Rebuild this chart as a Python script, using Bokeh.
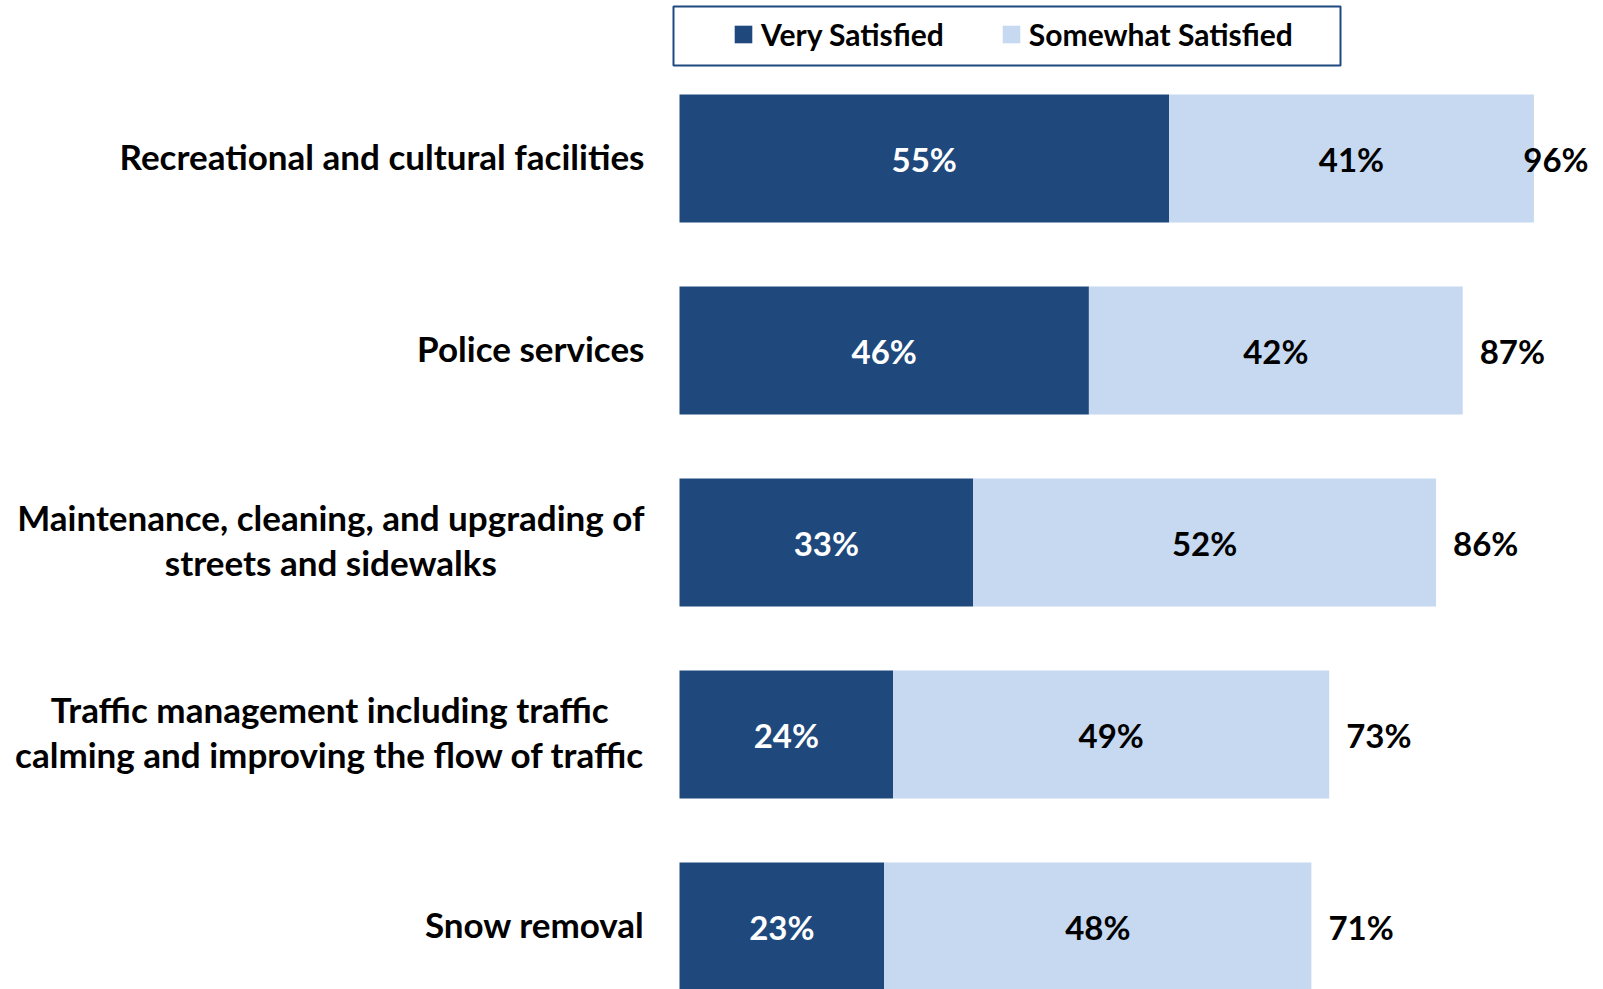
import numpy as np
from bokeh.plotting import figure
from bokeh.models import ColumnDataSource, Range1d, Legend, LegendItem, BoxAnnotation
from bokeh.core.properties import value
from bokeh.embed import file_html
from bokeh.resources import INLINE

# ---------------- data ----------------
categories = [
    "Recreational and cultural facilities",
    "Police services",
    "Maintenance, cleaning, and upgrading of\nstreets and sidewalks",
    "Traffic management including traffic\ncalming and improving the flow of traffic",
    "Snow removal",
]
very_satisfied = [55, 46, 33, 24, 23]
somewhat_satisfied = [41, 42, 52, 49, 48]
total_satisfied = [96, 87, 86, 73, 71]
series_names = ["Very Satisfied", "Somewhat Satisfied"]

# ---------------- style ----------------
DARK = "#1F497D"
LIGHT = "#C6D9F1"
FONT = "Lato"
W, H = 1603, 989

n = len(categories)
ypos = np.arange(n)[::-1].astype(float)
v = np.array(very_satisfied, dtype=float)
s = np.array(somewhat_satisfied, dtype=float)
end1 = v
end2 = v + s

px_per_unit = 8.9
x0_px = 679
band_px = 192
top_px = 158
x_start = -x0_px / px_per_unit
x_end = (W - x0_px) / px_per_unit
y_end = (n - 1) + top_px / band_px
y_start = y_end - H / band_px

src = ColumnDataSource(dict(
    y=ypos,
    zero=np.zeros(n),
    end1=end1,
    end2=end2,
    mid1=end1 / 2,
    mid2=(end1 + end2) / 2,
    lab1=[f"{x}%" for x in very_satisfied],
    lab2=[f"{x}%" for x in somewhat_satisfied],
    labt=[f"{x}%" for x in total_satisfied],
    xt=np.minimum(end2, 92.9),
    cat=categories,
))

p = figure(width=W, height=H, x_range=Range1d(x_start, x_end), y_range=Range1d(y_start, y_end),
           output_backend="svg", toolbar_location=None, min_border=0,
           x_axis_location=None, y_axis_location=None, outline_line_color=None)
p.grid.visible = False
p.background_fill_color = "white"
p.border_fill_color = "white"

bar_h = 128 / band_px
r1 = p.hbar(y="y", left="zero", right="end1", height=bar_h, fill_color=DARK, line_color=None, source=src)
r2 = p.hbar(y="y", left="end1", right="end2", height=bar_h, fill_color=LIGHT, line_color=None, source=src)

common = dict(text_font=value(FONT), text_font_style="bold", text_font_size="33px", text_baseline="middle")
p.text(x="mid1", y="y", text="lab1", text_color="white", text_align="center", source=src, **common)
p.text(x="mid2", y="y", text="lab2", text_color="black", text_align="center", source=src, **common)
p.text(x="xt", y="y", text="labt", text_color="black", text_align="left", x_offset=17, source=src, **common)

p.text(x=0, y="y", text="cat", text_color="black", text_align="center", anchor="center_right",
       x_offset=-35, y_offset=-3, text_line_height=1.08, source=src,
       text_font=value(FONT), text_font_style="bold", text_font_size="35px", text_baseline="middle")

legend = Legend(items=[LegendItem(label=series_names[0], renderers=[r1]),
                       LegendItem(label=series_names[1], renderers=[r2])],
                orientation="horizontal", location=(732, 937), padding=0, margin=0,
                spacing=56, label_standoff=7, glyph_width=22, glyph_height=22, label_height=22,
                border_line_alpha=0, background_fill_alpha=0,
                label_text_font=FONT, label_text_font_style="bold", label_text_font_size="30px",
                label_text_color="black")
p.add_layout(legend)

box = BoxAnnotation(left=673, right=1340, top=H - 6, bottom=H - 65,
                    left_units="screen", right_units="screen", top_units="screen", bottom_units="screen",
                    fill_alpha=0, line_color=DARK, line_width=2, line_alpha=1)
p.add_layout(box)

open("out.html", "w").write(file_html(p, INLINE))
